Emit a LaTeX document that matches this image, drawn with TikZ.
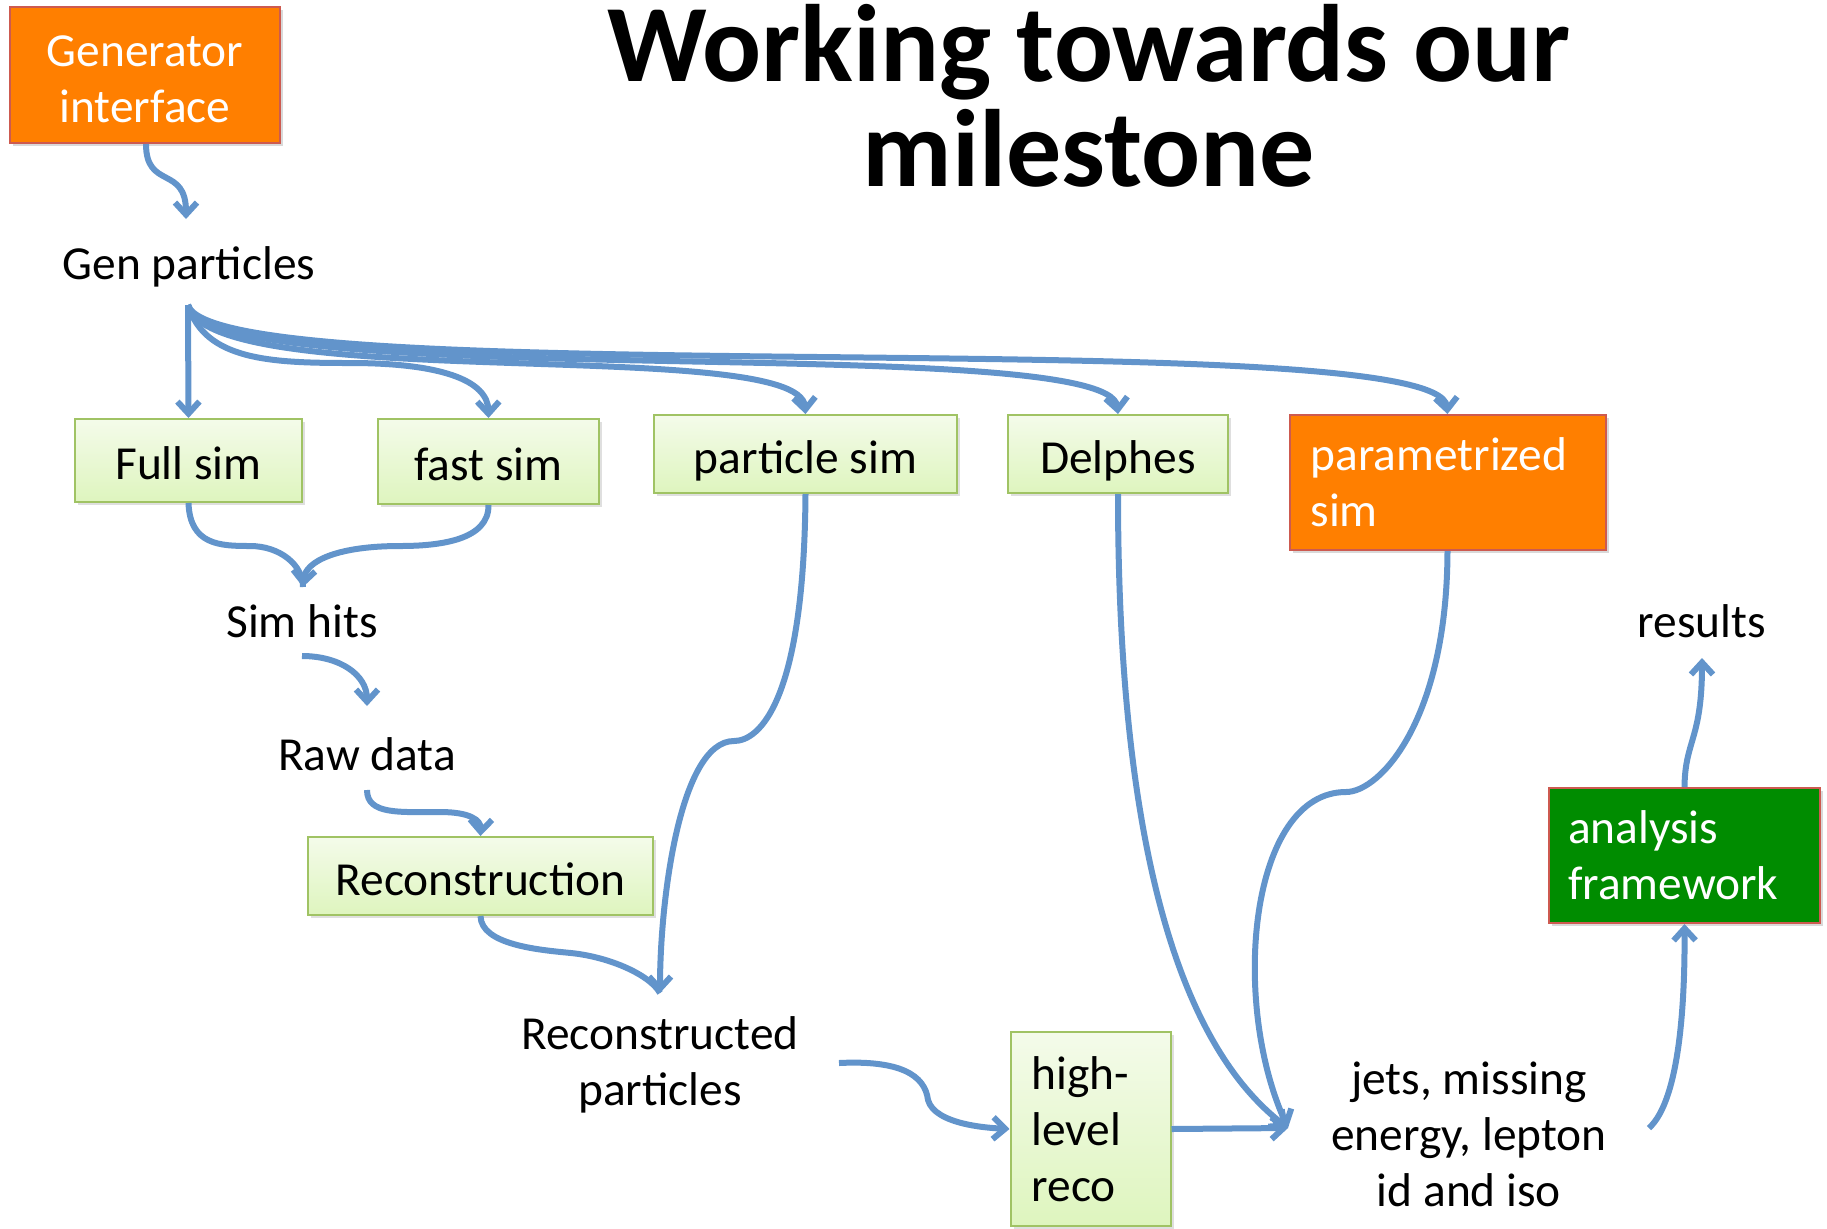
\documentclass[tikz,border=0pt]{standalone}
\usepackage{fontspec}
\setmainfont{Carlito}
\usetikzlibrary{arrows.meta,shadows}
\definecolor{arrowblue}{RGB}{98,148,203}
\definecolor{boxorange}{RGB}{255,127,0}
\definecolor{boxgreen}{RGB}{0,140,0}
\definecolor{redborder}{RGB}{205,90,80}
\definecolor{greenborder}{RGB}{160,195,100}
\definecolor{greentop}{RGB}{244,251,234}
\definecolor{greenbot}{RGB}{222,245,190}
\tikzset{
  body/.style={font=\fontsize{23.7}{28}\selectfont, inner sep=0pt},
  greenbox/.style={body, draw=greenborder, line width=1pt, top color=greentop, bottom color=greenbot,
    drop shadow={opacity=0.25, shadow xshift=1.5pt, shadow yshift=-1.5pt}},
  oneline/.style={text height=19pt, text depth=0pt},
  colbox/.style={body, draw=redborder, line width=1pt, text=white,
    drop shadow={opacity=0.3, shadow xshift=1.5pt, shadow yshift=-1.5pt}},
  flow/.style={draw=arrowblue, line width=3pt, -{Straight Barb[length=6pt,width=11pt]}},
  flowplain/.style={draw=arrowblue, line width=3pt},
}
\begin{document}
\begin{tikzpicture}[x=0.5pt,y=-0.5pt]
\useasboundingbox (0,0) rectangle (1827,1228);

% title
\node[font=\fontsize{55}{52.5}\bfseries\selectfont, align=center, inner sep=0pt] (title) at (1089,96)
  {Working towards our\\milestone};

% boxes
\node[colbox, fill=boxorange, minimum width=135pt, minimum height=68pt, align=center] (gen) at (145,75) {\rule{0pt}{20pt}Generator\\interface};
\node[greenbox, oneline, minimum width=113.5pt, minimum height=41.5pt] (full) at (188.5,460.5) {Full sim};
\node[greenbox, oneline, minimum width=110.5pt, minimum height=42.5pt] (fast) at (488.5,461.5) {fast sim};
\node[greenbox, oneline, minimum width=151.5pt, minimum height=39pt] (psim) at (805.5,454) {particle sim};
\node[greenbox, oneline, minimum width=110pt, minimum height=39pt] (delphes) at (1118,454) {Delphes};
\node[colbox, fill=boxorange, minimum width=157.5pt, minimum height=67.5pt, text width=137pt, inner xsep=10.5pt, align=left] (param) at (1447.5,482.5) {parametrized\\sim};
\node[greenbox, oneline, minimum width=172.5pt, minimum height=39pt] (reco) at (480.5,876) {Reconstruction};
\node[greenbox, minimum width=79.5pt, minimum height=97pt, text width=59pt, inner xsep=10.5pt, align=left] (hlr) at (1090.5,1129) {high-\\level\\reco};
\node[colbox, fill=boxgreen, minimum width=135.5pt, minimum height=67.5pt, text width=116.5pt, inner xsep=9.5pt, align=left] (ana) at (1684.5,855.5) {analysis\\framework};

% plain texts
\node[body] (genp) at (189,267) {Gen particles};
\node[body] (simhits) at (302,621) {Sim hits};
\node[body] (raw) at (367,754) {Raw data};
\node[body, align=center] (recop) at (660,1065) {Reconstructed\\particles};
\node[body] (results) at (1702,621) {results};
\node[body, align=center] (jets) at (1469,1134) {jets, missing\\energy, lepton\\id and iso};

% anchor coordinates
\coordinate (gpo) at (188,305);
\coordinate (shin) at (303,587);
\coordinate (rpin) at (660,993);
\coordinate (jin) at (1288,1128);
\coordinate (jout) at (1649,1128);
\coordinate (resin) at (1702,658);

% connectors
\draw[flow] (gen.south -| 146,0) .. controls (146,190) and (186,165) .. (186,219);
\draw[flow] (gpo) -- (full.north);
\draw[flow] (gpo) .. controls (205,360) and (270,363) .. (350,363) .. controls (440,363) and (488,380) .. (fast.north);
\draw[flow] (gpo) .. controls (210,395) and (800,335) .. (psim.north);
\draw[flow] (gpo) .. controls (212,395) and (1110,330) .. (delphes.north);
\draw[flow] (gpo) .. controls (215,395) and (1440,320) .. (param.north);

\draw[flowplain] (full.south) .. controls (190,545) and (220,546) .. (250,546) .. controls (280,546) and (303,565) .. (shin);
\draw[flow] (fast.south) .. controls (489,540) and (440,546) .. (400,546) .. controls (340,546) and (305,560) .. (shin);

\draw[flow] (302,656) .. controls (340,656) and (367,675) .. (367,706);
\draw[flow] (367,790) .. controls (367,815) and (400,812) .. (440,812) .. controls (470,812) and (481,820) .. (reco.north);

\draw[flowplain] (reco.south) .. controls (481,945) and (540,950) .. (571,953) .. controls (610,957) and (650,975) .. (rpin);
\draw[flow] (psim.south) .. controls (804,700) and (760,741) .. (734,741) .. controls (680,741) and (660,900) .. (rpin);

\draw[flow] (839,1063) .. controls (900,1060) and (925,1075) .. (928,1100) .. controls (935,1125) and (990,1128) .. (hlr.west);
\draw[flow] (hlr.east) -- (jin);
\draw[flow] (delphes.south) .. controls (1118,900) and (1200,1060) .. (jin);
\draw[flow] (param.south) .. controls (1447,720) and (1380,792) .. (1346,792) .. controls (1250,792) and (1230,1000) .. (jin);

\draw[flow] (jout) .. controls (1680,1100) and (1685,1000) .. (ana.south);
\draw[flow] (ana.north) .. controls (1685,740) and (1702,740) .. (resin);
\end{tikzpicture}
\end{document}
